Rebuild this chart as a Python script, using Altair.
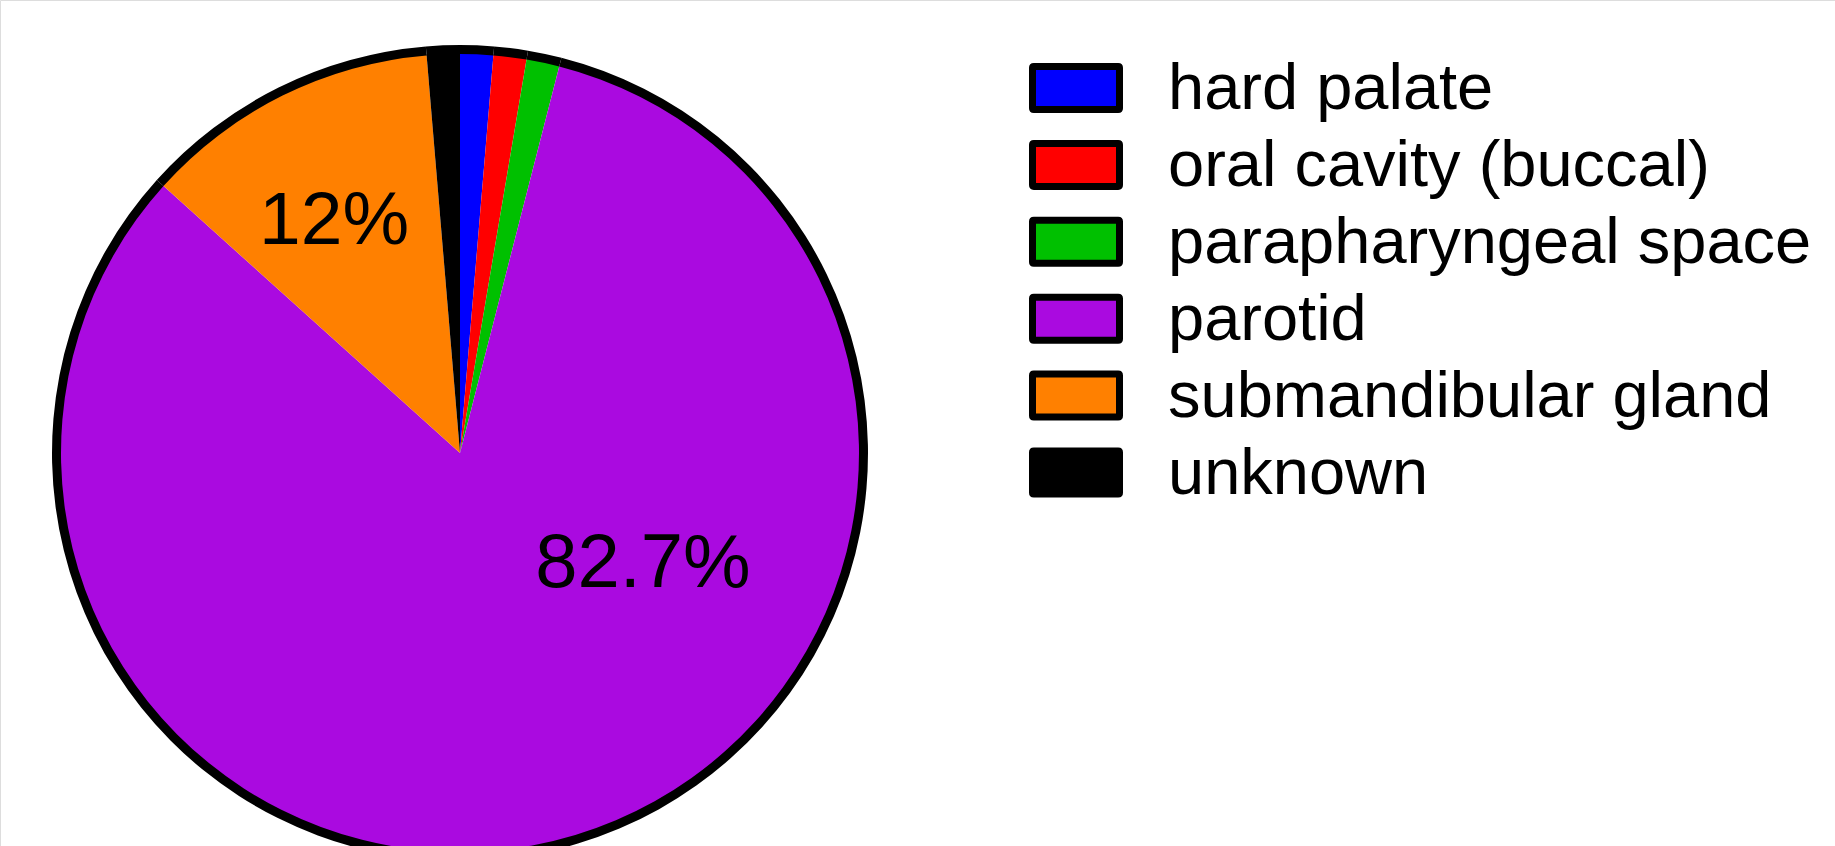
import altair as alt
import pandas as pd

# Tumour site counts (n = 75)
sites = [
    "hard palate",
    "oral cavity (buccal)",
    "parapharyngeal space",
    "parotid",
    "submandibular gland",
    "unknown",
]
counts = [1, 1, 1, 62, 9, 1]
colors = ["#0000FF", "#FF0000", "#00C000", "#AA0AE0", "#FF8000", "#000000"]

df = pd.DataFrame({"site": sites, "count": counts, "rank": list(range(len(sites)))})

FONT = "Liberation Sans"
color_scale = alt.Scale(domain=sites, range=colors)

# wide rectangle with slightly rounded corners for the key swatches
SWATCH = (
    "M-0.97,-0.494H0.97Q1,-0.494 1,-0.464V0.464Q1,0.494 0.97,0.494"
    "H-0.97Q-1,0.494 -1,0.464V-0.464Q-1,-0.494 -0.97,-0.494Z"
)

base = (
    alt.Chart(df)
    .transform_joinaggregate(total="sum(count)")
    .transform_calculate(
        pct="datum.count / datum.total * 100",
        label="format(datum.pct, '.3~r') + '%'",
    )
    .encode(
        theta=alt.Theta("count:Q", stack=True),
        order=alt.Order("rank:Q"),
        x=alt.value(460),
        y=alt.value(453),
    )
)

slices = base.mark_arc(radius=400).encode(
    color=alt.Color("site:N", scale=color_scale, legend=None)
)

# black outline around the whole pie, no separators between slices
ring = base.mark_arc(radius=408, radius2=399, color="black").encode(detail="site:N")

label_sub = base.mark_text(
    radius=272, fontSize=75, font=FONT, color="black", baseline="middle", dx=-5, dy=12
).encode(
    detail="site:N",
    text=alt.condition(
        alt.datum.site == "submandibular gland", alt.Text("label:N"), alt.value("")
    ),
)

label_par = base.mark_text(
    radius=107, fontSize=76, font=FONT, color="black", baseline="middle", dx=152, dy=9
).encode(
    detail="site:N",
    text=alt.condition(alt.datum.site == "parotid", alt.Text("label:N"), alt.value("")),
)

# key on the right: one row per site
key_y = alt.Y(
    "site:N",
    sort=sites,
    scale=alt.Scale(type="point", range=[88, 472.5], padding=0),
    axis=None,
)
key = alt.Chart(df)

key_swatch = key.mark_point(
    shape=SWATCH, size=7569, filled=True, opacity=1, stroke="black", strokeWidth=7
).encode(
    x=alt.value(1076),
    y=key_y,
    color=alt.Color("site:N", scale=color_scale, legend=None),
)

key_text = key.mark_text(
    align="left", baseline="alphabetic", dy=21, fontSize=65, font=FONT, color="black"
).encode(x=alt.value(1168), y=key_y, text="site:N")

chart = (
    alt.layer(slices, ring, label_sub, label_par, key_swatch, key_text)
    .properties(width=1835, height=846, autosize=alt.AutoSizeParams(type="none"), padding=0)
    .configure_view(stroke=None)
    .configure(background="white")
)

chart.save("out.html", embed_options={"renderer": "svg", "actions": False})
